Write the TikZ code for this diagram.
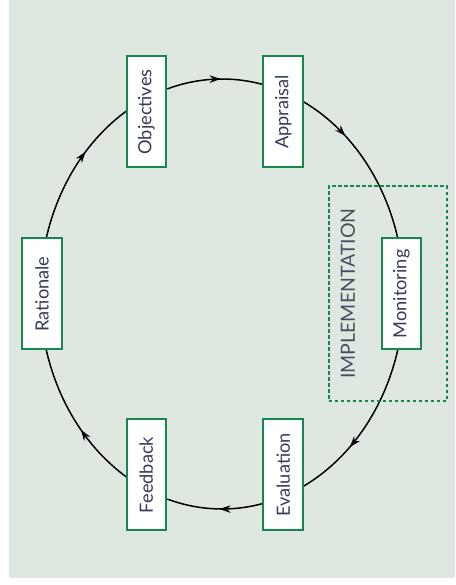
\documentclass[tikz,border=0pt]{standalone}
\usepackage{fontspec}
\setmainfont{Lato}
\usepackage{graphicx}
\usetikzlibrary{arrows.meta,decorations.markings,calc}
\definecolor{bg}{HTML}{DFE8E0}
\definecolor{boxgreen}{HTML}{16884C}
\definecolor{txt}{HTML}{333D58}
\definecolor{impltxt}{HTML}{44505F}
\begin{document}
\begin{tikzpicture}[x=1pt,y=1pt,
  stagebox/.style={draw=boxgreen,line width=2pt,fill=white,minimum width=39.5pt,minimum height=111pt,inner sep=0pt,text=txt,font=\fontsize{18.2}{21}\selectfont},
  flow/.style={line width=1.5pt,black},
  arrowat/.style={postaction={decorate,decoration={markings,mark=at position #1 with {\arrow{Stealth[length=11pt,width=7.5pt]}}}}},
  implbox/.style={draw=boxgreen,line width=1.7pt,dash pattern=on 3.6pt off 2.4pt,minimum width=118.3pt,minimum height=214.7pt,inner sep=0pt},
  impllabel/.style={text=impltxt,font=\fontsize{19.5}{22}\selectfont,inner sep=0pt}
]
\useasboundingbox (0,0) rectangle (455,585);
\fill[bg] (9,7) rectangle (455,585);
\coordinate (C) at (222,291);
% connectors (elliptical arcs, clockwise)
\draw[flow,arrowat=0.62] ($(C)+(165:182pt and 215pt)$) arc[start angle=165,end angle=121.5,x radius=182pt,y radius=215pt];
\draw[flow,arrowat=0.56] ($(C)+(107.5:182pt and 215pt)$) arc[start angle=107.5,end angle=77,x radius=182pt,y radius=215pt];
\draw[flow,arrowat=0.32] ($(C)+(63.6:182pt and 215pt)$) arc[start angle=63.6,end angle=15,x radius=182pt,y radius=215pt];
\draw[flow,arrowat=0.64] ($(C)+(-15:182pt and 215pt)$) arc[start angle=-15,end angle=-63.6,x radius=182pt,y radius=215pt];
\draw[flow,arrowat=0.45] ($(C)+(-77:182pt and 215pt)$) arc[start angle=-77,end angle=-107.5,x radius=182pt,y radius=215pt];
\draw[flow,arrowat=0.43] ($(C)+(-121.5:182pt and 215pt)$) arc[start angle=-121.5,end angle=-165,x radius=182pt,y radius=215pt];
% implementation frame
\node[implbox] (impl) at (387.8,291.3) {};
\node[impllabel] (impltext) at (348,291.5) {\rotatebox{90}{IMPLEMENTATION}};
% stages
\node[stagebox] (rationale) at (42,291) {\rotatebox{90}{Rationale}};
\node[stagebox] (objectives) at (146.3,473) {\rotatebox{90}{Objectives}};
\node[stagebox] (appraisal) at (283.2,473) {\rotatebox{90}{Appraisal}};
\node[stagebox] (monitoring) at (401.5,291) {\rotatebox{90}{Monitoring}};
\node[stagebox] (evaluation) at (283.2,110) {\rotatebox{90}{Evaluation}};
\node[stagebox] (feedback) at (146.3,110) {\rotatebox{90}{Feedback}};
\end{tikzpicture}
\end{document}
